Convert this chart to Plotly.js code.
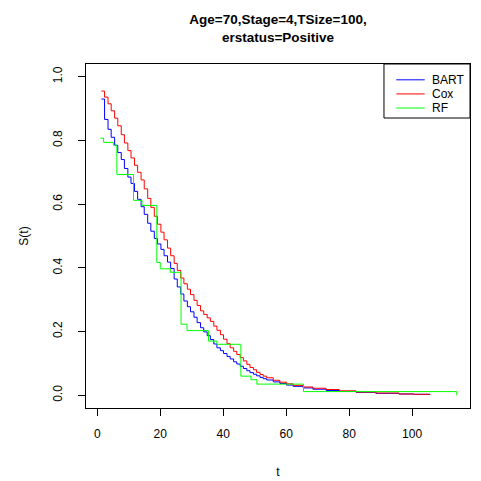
<!DOCTYPE html>
<html>
<head>
<meta charset="utf-8">
<script src="https://cdn.plot.ly/plotly-3.0.1.min.js"></script>
<style>
  html, body { margin: 0; padding: 0; background: #ffffff; }
  #chart { width: 481px; height: 481px; }
</style>
</head>
<body>
<div id="chart"></div>
<script>
// Time grid shared by the BART and Cox step curves
const timesModel = [1.3, 2.3, 3.4, 4.4, 5.5, 6.5, 7.6, 8.6, 9.7, 10.7, 11.8, 12.8, 13.9, 14.9, 16.0, 17.0, 18.1, 19.1, 20.2, 21.2,
  22.3, 23.3, 24.4, 25.4, 26.5, 27.5, 28.6, 29.6, 30.7, 31.7, 32.8, 33.8, 34.9, 35.9, 37.0, 38.0, 39.1, 40.1, 41.2, 42.2,
  43.3, 44.3, 45.4, 46.4, 47.5, 48.5, 49.6, 50.6, 51.7, 52.7, 53.8, 55.9, 58.0, 60.1, 62.2, 65.4, 68.5, 72.7, 76.9, 82.2,
  88.5, 95.8, 100.5, 105.7];

const survBART = [0.930, 0.866, 0.835, 0.810, 0.785, 0.762, 0.740, 0.712, 0.685, 0.665, 0.640, 0.615, 0.592, 0.568, 0.540, 0.515, 0.492, 0.475, 0.458, 0.438,
  0.418, 0.398, 0.365, 0.340, 0.318, 0.296, 0.278, 0.262, 0.245, 0.228, 0.212, 0.199, 0.187, 0.175, 0.161, 0.149, 0.140, 0.131, 0.122, 0.114,
  0.105, 0.098, 0.091, 0.084, 0.077, 0.071, 0.066, 0.061, 0.056, 0.052, 0.048, 0.042, 0.037, 0.032, 0.028, 0.023, 0.019, 0.015, 0.012, 0.009,
  0.006, 0.004, 0.003, 0.002];

const survCox = [0.955, 0.936, 0.915, 0.893, 0.870, 0.846, 0.818, 0.792, 0.768, 0.745, 0.722, 0.700, 0.676, 0.648, 0.618, 0.590, 0.562, 0.537, 0.512, 0.488,
  0.462, 0.438, 0.414, 0.392, 0.368, 0.350, 0.333, 0.316, 0.298, 0.282, 0.265, 0.254, 0.243, 0.232, 0.217, 0.204, 0.190, 0.176, 0.162, 0.149,
  0.138, 0.128, 0.118, 0.108, 0.097, 0.087, 0.080, 0.072, 0.065, 0.060, 0.055, 0.047, 0.041, 0.036, 0.031, 0.026, 0.022, 0.018, 0.014, 0.010,
  0.007, 0.004, 0.003, 0.002];

// Random forest step curve
const timesRF = [1.0, 2.0, 5.1, 6.2, 11.5, 14.2, 18.9, 20.0, 23.2, 26.6, 28.5, 35.3, 38.0, 45.6, 48.8, 50.7, 65.5, 114.2];
const survRF = [0.807, 0.794, 0.785, 0.693, 0.612, 0.596, 0.417, 0.397, 0.386, 0.223, 0.203, 0.170, 0.160, 0.060, 0.049, 0.035, 0.0115, 0.0];

const xTicks = [0, 20, 40, 60, 80, 100];
const yTicks = [0, 0.2, 0.4, 0.6, 0.8, 1.0];
const yTickText = ['0.0', '0.2', '0.4', '0.6', '0.8', '1.0'];

const seriesNames = ['BART', 'Cox', 'RF'];
const seriesColors = ['#0000FF', '#FF0000', '#00FF00'];

const FONT = 'Liberation Sans, Arial, Helvetica, sans-serif';

const traces = [
  {x: timesModel, y: survBART, name: seriesNames[0], color: seriesColors[0]},
  {x: timesModel, y: survCox, name: seriesNames[1], color: seriesColors[1]},
  {x: timesRF, y: survRF, name: seriesNames[2], color: seriesColors[2]}
].map(s => ({
  type: 'scatter', mode: 'lines', x: s.x, y: s.y, name: s.name,
  line: {color: s.color, width: 1, shape: 'hv'}, showlegend: false
}));

// Hand-built R-style legend (box, line samples, labels) in paper coordinates
const legBox = {x0: 0.776, x1: 1.0, y0: 0.843, y1: 1.0};
const legRowsY = [0.954, 0.913, 0.872];
const legLineX = [0.808, 0.882];
const legTextX = 0.896;

const shapes = [{
  type: 'rect', xref: 'paper', yref: 'paper',
  x0: legBox.x0, x1: legBox.x1, y0: legBox.y0, y1: legBox.y1,
  line: {color: '#000000', width: 1}, fillcolor: '#ffffff', layer: 'above'
}].concat(seriesNames.map((n, i) => ({
  type: 'line', xref: 'paper', yref: 'paper',
  x0: legLineX[0], x1: legLineX[1], y0: legRowsY[i], y1: legRowsY[i],
  line: {color: seriesColors[i], width: 1}, layer: 'above'
})));

const annotations = seriesNames.map((n, i) => ({
  text: n, xref: 'paper', yref: 'paper', x: legTextX, y: legRowsY[i],
  xanchor: 'left', yanchor: 'middle', showarrow: false,
  font: {family: FONT, size: 12, color: '#000000'}
}));

const axisCommon = {
  showgrid: false, zeroline: false, showline: true, mirror: true,
  linecolor: '#000000', linewidth: 1, ticks: 'outside', ticklen: 7,
  tickcolor: '#000000', tickwidth: 1,
  tickfont: {family: FONT, size: 12, color: '#000000'}
};

const layout = {
  width: 481, height: 481,
  paper_bgcolor: '#ffffff', plot_bgcolor: '#ffffff',
  margin: {l: 86, r: 11, t: 64, b: 73},
  title: {
    text: '<b>Age=70,Stage=4,TSize=100,<br>erstatus=Positive</b>',
    font: {family: FONT, size: 13.5, color: '#000000'},
    x: 0.5, xref: 'paper', xanchor: 'center',
    y: 0.950, yref: 'container', yanchor: 'middle'
  },
  xaxis: Object.assign({}, axisCommon, {
    range: [-3.6, 118.4], tickmode: 'array', tickvals: xTicks,
    ticklabelstandoff: 8,
    title: {text: 't', font: {family: FONT, size: 12, color: '#000000'}, standoff: 27}
  }),
  yaxis: Object.assign({}, axisCommon, {
    range: [-0.04, 1.04], tickmode: 'array', tickvals: yTicks, ticktext: yTickText,
    tickangle: -90, ticklabelstandoff: 11,
    title: {text: 'S(t)', font: {family: FONT, size: 12, color: '#000000'}, standoff: 20}
  }),
  shapes: shapes,
  annotations: annotations,
  showlegend: false
};

Plotly.newPlot('chart', traces, layout, {displayModeBar: false, staticPlot: true});
</script>
</body>
</html>
